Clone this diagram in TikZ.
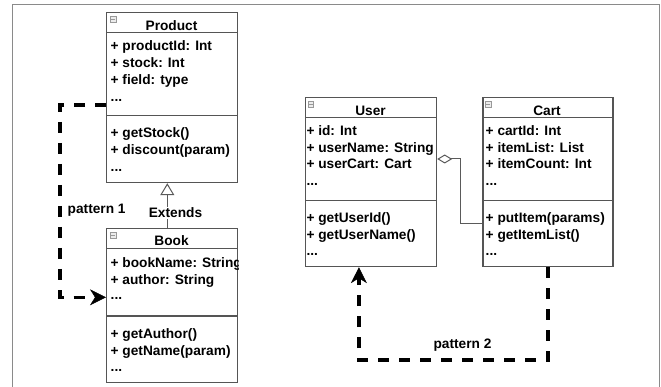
\documentclass[tikz,border=0pt]{standalone}
\usepackage{fontspec}
\setmainfont{Liberation Sans}
\usetikzlibrary{arrows.meta}
\definecolor{boxline}{HTML}{555555}
\definecolor{conn}{HTML}{5A5A5A}
\definecolor{frame}{HTML}{8A8A8A}
\begin{document}
\begin{tikzpicture}[x=1pt,y=-1pt,
  classbox/.style={draw=boxline, line width=1.2pt, fill=white, inner sep=0pt, anchor=north west},
  sepline/.style={draw=boxline, line width=1.2pt},
  txt/.style={font=\bfseries\fontsize{13.7}{16}\selectfont, inner sep=0pt, anchor=base west},
  ttl/.style={font=\bfseries\fontsize{13.7}{16}\selectfont, inner sep=0pt, anchor=base},
  icon/.style={draw=gray!80, line width=0.6pt, fill=gray!15, minimum size=5.5pt, inner sep=0pt, anchor=north west},
  patt/.style={line width=3.5pt, dash pattern=on 11pt off 10pt, black},
  lbl/.style={font=\bfseries\fontsize{13.7}{16}\selectfont, inner sep=1pt},
  conline/.style={draw=conn, line width=1pt}
]
\useasboundingbox (0,0) rectangle (661,387);
% outer frame
\draw[frame, line width=1.2pt] (12.5,400) -- (12.5,4.3) -- (659.3,4.3) -- (659.3,400);

% ---------- Product ----------
\node[classbox, minimum width=131pt, minimum height=170pt] (product) at (106,12) {};
\draw[sepline] ([yshift=-20.3pt]product.north west) -- ([yshift=-20.3pt]product.north east);
\draw[sepline] ([yshift=-103.7pt]product.north west) -- ([yshift=-103.7pt]product.north east);
\node[icon] (picon) at (110,16.5) {};
\draw[gray!80, line width=0.5pt] ([xshift=1pt]picon.west) -- ([xshift=-1pt]picon.east);
\node[ttl] (ptitle) at (171.5,30.7) {Product};
\node[txt] (p1) at (110.5,50.5) {+ productId: Int};
\node[txt] (p2) at (110.5,67.7) {+ stock: Int};
\node[txt] (p3) at (110.5,85) {+ field: type};
\node[txt] (p4) at (110.5,101.5) {...};
\node[txt] (p5) at (110.5,137.7) {+ getStock()};
\node[txt] (p6) at (110.5,154.5) {+ discount(param)};
\node[txt] (p7) at (110.5,171.5) {...};

% ---------- Book ----------
\node[classbox, minimum width=131pt, minimum height=153.7pt] (book) at (106,228.3) {};
\draw[sepline] ([yshift=-20pt]book.north west) -- ([yshift=-20pt]book.north east);
\draw[sepline] ([yshift=-87.7pt]book.north west) -- ([yshift=-87.7pt]book.north east);
\node[icon] (bicon) at (110,232.5) {};
\draw[gray!80, line width=0.5pt] ([xshift=1pt]bicon.west) -- ([xshift=-1pt]bicon.east);
\node[ttl] (btitle) at (171.5,246) {Book};
\begin{scope}
\clip (book.north west) rectangle (book.south east);
\node[txt] (b1) at (110.5,267.3) {+ bookName: String};
\node[txt] (b2) at (110.5,284.3) {+ author: String};
\node[txt] (b3) at (110.5,299.5) {...};
\node[txt] (b4) at (110.5,338.3) {+ getAuthor()};
\node[txt] (b5) at (110.5,355.7) {+ getName(param)};
\node[txt] (b6) at (110.5,371) {...};
\end{scope}

% ---------- User ----------
\node[classbox, minimum width=131pt, minimum height=168.7pt] (user) at (305,97.3) {};
\draw[sepline] ([yshift=-20pt]user.north west) -- ([yshift=-20pt]user.north east);
\draw[sepline] ([yshift=-103.4pt]user.north west) -- ([yshift=-103.4pt]user.north east);
\node[icon] (uicon) at (307.5,101.5) {};
\draw[gray!80, line width=0.5pt] ([xshift=1pt]uicon.west) -- ([xshift=-1pt]uicon.east);
\node[ttl] (utitle) at (370.5,115.7) {User};
\begin{scope}
\clip (user.north west) rectangle (user.south east);
\node[txt] (u1) at (306.3,136) {+ id: Int};
\node[txt] (u2) at (306.3,152.7) {+ userName: String};
\node[txt] (u3) at (306.3,169) {+ userCart: Cart};
\node[txt] (u4) at (306.3,186) {...};
\node[txt] (u5) at (306.3,222.7) {+ getUserId()};
\node[txt] (u6) at (306.3,240) {+ getUserName()};
\node[txt] (u7) at (306.3,255.5) {...};
\end{scope}

% ---------- Cart ----------
\node[classbox, minimum width=130pt, minimum height=168.7pt] (cart) at (482.3,97.3) {};
\draw[sepline] ([yshift=-20pt]cart.north west) -- ([yshift=-20pt]cart.north east);
\draw[sepline] ([yshift=-103.4pt]cart.north west) -- ([yshift=-103.4pt]cart.north east);
\node[icon] (cicon) at (485,101.5) {};
\draw[gray!80, line width=0.5pt] ([xshift=1pt]cicon.west) -- ([xshift=-1pt]cicon.east);
\node[ttl] (ctitle) at (547,115.7) {Cart};
\node[txt] (c1) at (485.5,136) {+ cartId: Int};
\node[txt] (c2) at (485.5,152.7) {+ itemList: List};
\node[txt] (c3) at (485.5,169) {+ itemCount: Int};
\node[txt] (c4) at (485.5,186) {...};
\node[txt] (c5) at (485.5,222.7) {+ putItem(params)};
\node[txt] (c6) at (485.5,240) {+ getItemList()};
\node[txt] (c7) at (485.5,255.5) {...};

% ---------- Inheritance ----------
\draw[conline, -{Triangle[open, length=12pt, width=14pt, fill=white]}]
  ([xshift=-4.8pt]book.north) -- ([xshift=-4.8pt]product.south);
\node[lbl, fill=white, anchor=base] (ext) at (175.5,217.5) {Extends};

% ---------- Aggregation ----------
\draw[conline, {Diamond[open, length=15pt, width=9pt, fill=white]}-]
  ([yshift=-61.7pt]user.north east) -- ++(23,0) |- ([yshift=-126.7pt]cart.north west);

% ---------- pattern 1 ----------
\draw[patt, -{Stealth[length=16pt, width=16pt, inset=5pt, line width=0.5pt]}]
  ([yshift=-93pt]product.north west) -- ++(-46,0) |- ([yshift=-69pt]book.north west);
\node[lbl, anchor=base west, inner sep=0pt] (pat1) at (67.5,213.3) {pattern 1};

% ---------- pattern 2 ----------
\draw[patt, -{Stealth[length=16pt, width=16pt, inset=5pt, line width=0.5pt]}]
  (cart.south) -- ++(0,93) -| ([xshift=-12.2pt]user.south);
\node[lbl, anchor=base, inner sep=0pt] (pat2) at (462.5,348.5) {pattern 2};
\end{tikzpicture}
\end{document}
